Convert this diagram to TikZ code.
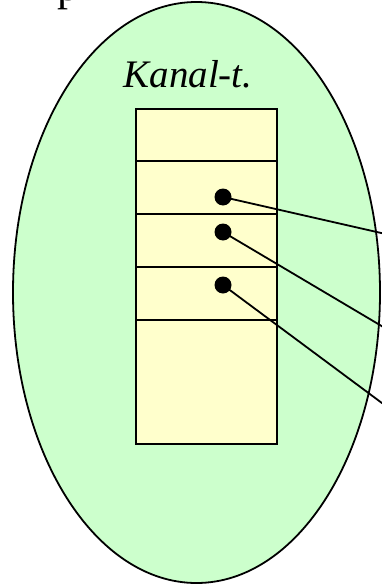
\documentclass[tikz,border=0pt]{standalone}
\usepackage{fontspec}
\setmainfont{Liberation Serif}
\definecolor{chanbg}{HTML}{CCFFCC}
\definecolor{tablebg}{HTML}{FFFFCC}
\begin{document}
\begin{tikzpicture}[x=1pt,y=-1pt,line width=1.8pt,
    dot/.style={circle,fill=black,minimum size=17pt,inner sep=0pt}]
    \useasboundingbox (0,0) rectangle (382,586);
    \clip (0,0) rectangle (382,586);
    \path (57,1) node[anchor=base west,inner sep=0pt,font=\fontsize{44}{46}\selectfont] (cap) {p};
    \draw[fill=chanbg] (196.5,292.5) ellipse [x radius=183.5, y radius=290.5];
    \node[anchor=base,inner sep=0pt,font=\itshape\fontsize{39}{41}\selectfont] (name) at (188,88) {Kanal-t.};
    \path (135,108) node[draw,fill=tablebg,anchor=north west,inner sep=0pt,minimum width=141pt,minimum height=335pt] (tab) {};
    \foreach \y in {161,214,267,320}
        \draw (tab.west |- 0,\y) -- (tab.east |- 0,\y);
    \path (223,197) node[dot] (d1) {};
    \path (223,232) node[dot] (d2) {};
    \path (223,285) node[dot] (d3) {};
    \coordinate (e1) at (390,235);
    \coordinate (e2) at (390,331);
    \coordinate (e3) at (390,409);
    \draw (d1.center) -- (e1);
    \draw (d2.center) -- (e2);
    \draw (d3.center) -- (e3);
\end{tikzpicture}
\end{document}
